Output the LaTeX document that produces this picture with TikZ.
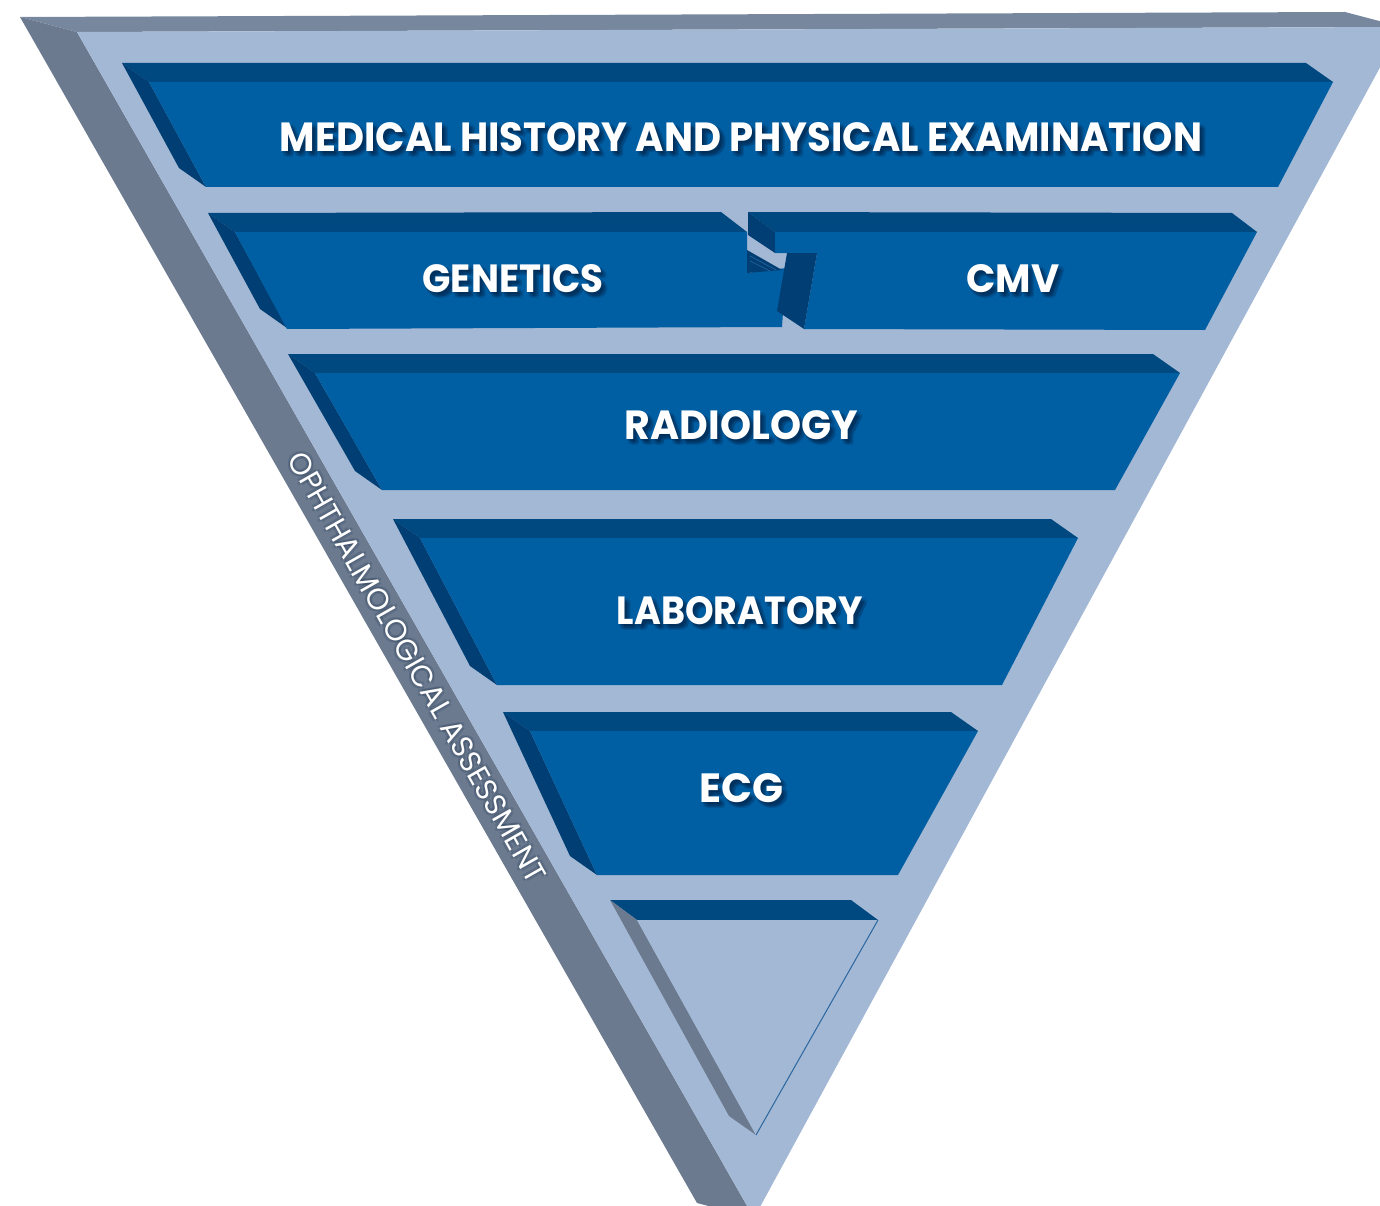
\documentclass[tikz,border=0pt]{standalone}
\usepackage{fontspec}
\setmainfont{Poppins}
\usepackage{graphicx}
\definecolor{ofront}{RGB}{163,184,212}
\definecolor{oside}{RGB}{107,122,143}
\definecolor{otop}{RGB}{119,136,158}
\definecolor{tfront}{RGB}{0,94,163}
\definecolor{ttop}{RGB}{0,72,128}
\definecolor{tside}{RGB}{0,62,115}
\definecolor{tline}{RGB}{43,102,160}
\definecolor{shadowc}{RGB}{0,25,55}
\newcommand{\tier}[8]{%
  \fill[ttop] (#1-27,#2-19) -- (#3-27,#4-19) -- (#3,#4) -- (#1,#2) -- cycle;
  \fill[tside] (#1-27,#2-19) -- (#1,#2) -- (#7,#8) -- (#7-27,#8-19) -- cycle;
  \fill[tfront] (#1,#2) -- (#3,#4) -- (#5,#6) -- (#7,#8) -- cycle;
}
\newcommand{\lbl}[6]{%
  \foreach \i/\sx/\sy in {1/3/4,2/5/6,3/1/2,4/4/2,5/2/5,6/6/4}
    \node[inner sep=0, text=shadowc, text opacity=0.16] (#1s\i) at (#2+\sx,#3+\sy) {\resizebox{#4pt}{#5pt}{\bfseries #6}};
  \node[inner sep=0, text=white] (#1) at (#2,#3) {\resizebox{#4pt}{#5pt}{\bfseries #6}};
}
\begin{document}
\begin{tikzpicture}[x=1pt,y=-1pt]
\useasboundingbox (0,0) rectangle (1380,1206);
\clip (0,0) rectangle (1380,1206);
% outer inverted prism
\fill[otop] (20,17) -- (1345,12) -- (1402,27) -- (77,32) -- cycle;
\fill[oside] (20,17) -- (77,32) -- (754,1218) -- (697,1203) -- cycle;
\fill[ofront] (77,32) -- (1402,27) -- (754,1218) -- cycle;
% tier 1
\tier{149}{82}{1333}{82}{1278}{187}{206}{187}
% genetics
\fill[ttop] (208,213) -- (721,212) -- (747,232) -- (235,232) -- cycle;
\fill[tside] (208,213) -- (235,232) -- (287,328) -- (260,309) -- cycle;
\fill[tfront] (235,232) -- (747,232) -- (747,273) -- (786,268) -- (782,327) -- (287,329) -- cycle;
\fill[tside] (747,250) -- (782,270) -- (747,273) -- cycle;
\draw[tline, line width=0.6pt] (750,256) -- (776,270);
\draw[tline, line width=0.6pt] (750,261) -- (770,271);
% cmv
\fill[ttop] (748,212) -- (1232,213) -- (1257,232) -- (775,232) -- cycle;
\fill[tside] (748,212) -- (775,232) -- (775,253) -- (748,235) -- cycle;
\fill[tfront] (775,232) -- (1257,232) -- (1205,330) -- (804,329) -- (817,253) -- (775,253) -- cycle;
\fill[tside] (787,253) -- (817,253) -- (804,329) -- (777,311) -- cycle;
% radiology, laboratory, ecg
\tier{315}{373}{1180}{373}{1115}{490}{382}{490}
\tier{420}{538}{1078}{538}{1002}{685}{497}{685}
\tier{530}{731}{978}{731}{898}{875}{597}{875}
% bottom triangle
\fill[ttop] (610,900) -- (851,900) -- (878,920) -- (637,920) -- cycle;
\fill[oside] (610,900) -- (637,920) -- (756,1135) -- (729,1116) -- cycle;
\fill[ofront] (637,920) -- (878,920) -- (756,1135) -- cycle;
\draw[tline, line width=1pt] (878,920) -- (756,1135);
% labels
\lbl{med}{741}{137.5}{922}{29}{MEDICAL HISTORY AND PHYSICAL EXAMINATION}
\lbl{gen}{513}{279}{181}{28}{GENETICS}
\lbl{cmv}{1013}{279}{93}{28}{CMV}
\lbl{rad}{741.5}{425.5}{233}{29}{RADIOLOGY}
\lbl{lab}{740}{611}{246}{28}{LABORATORY}
\lbl{ecg}{741}{788}{84}{29}{ECG}
% side text
\foreach \i/\sx/\sy in {1/2/2,2/-2/2,3/2/-2,4/-2/-2}
  \node[rotate=-60.3, inner sep=0, text=shadowc, text opacity=0.15] (ophs\i) at (417+\sx,667+\sy) {\resizebox{490pt}{21pt}{OPHTHALMOLOGICAL ASSESSMENT}};
\node[rotate=-60.3, inner sep=0, text=white] (oph) at (417,667) {\resizebox{490pt}{21pt}{OPHTHALMOLOGICAL ASSESSMENT}};
\end{tikzpicture}
\end{document}
